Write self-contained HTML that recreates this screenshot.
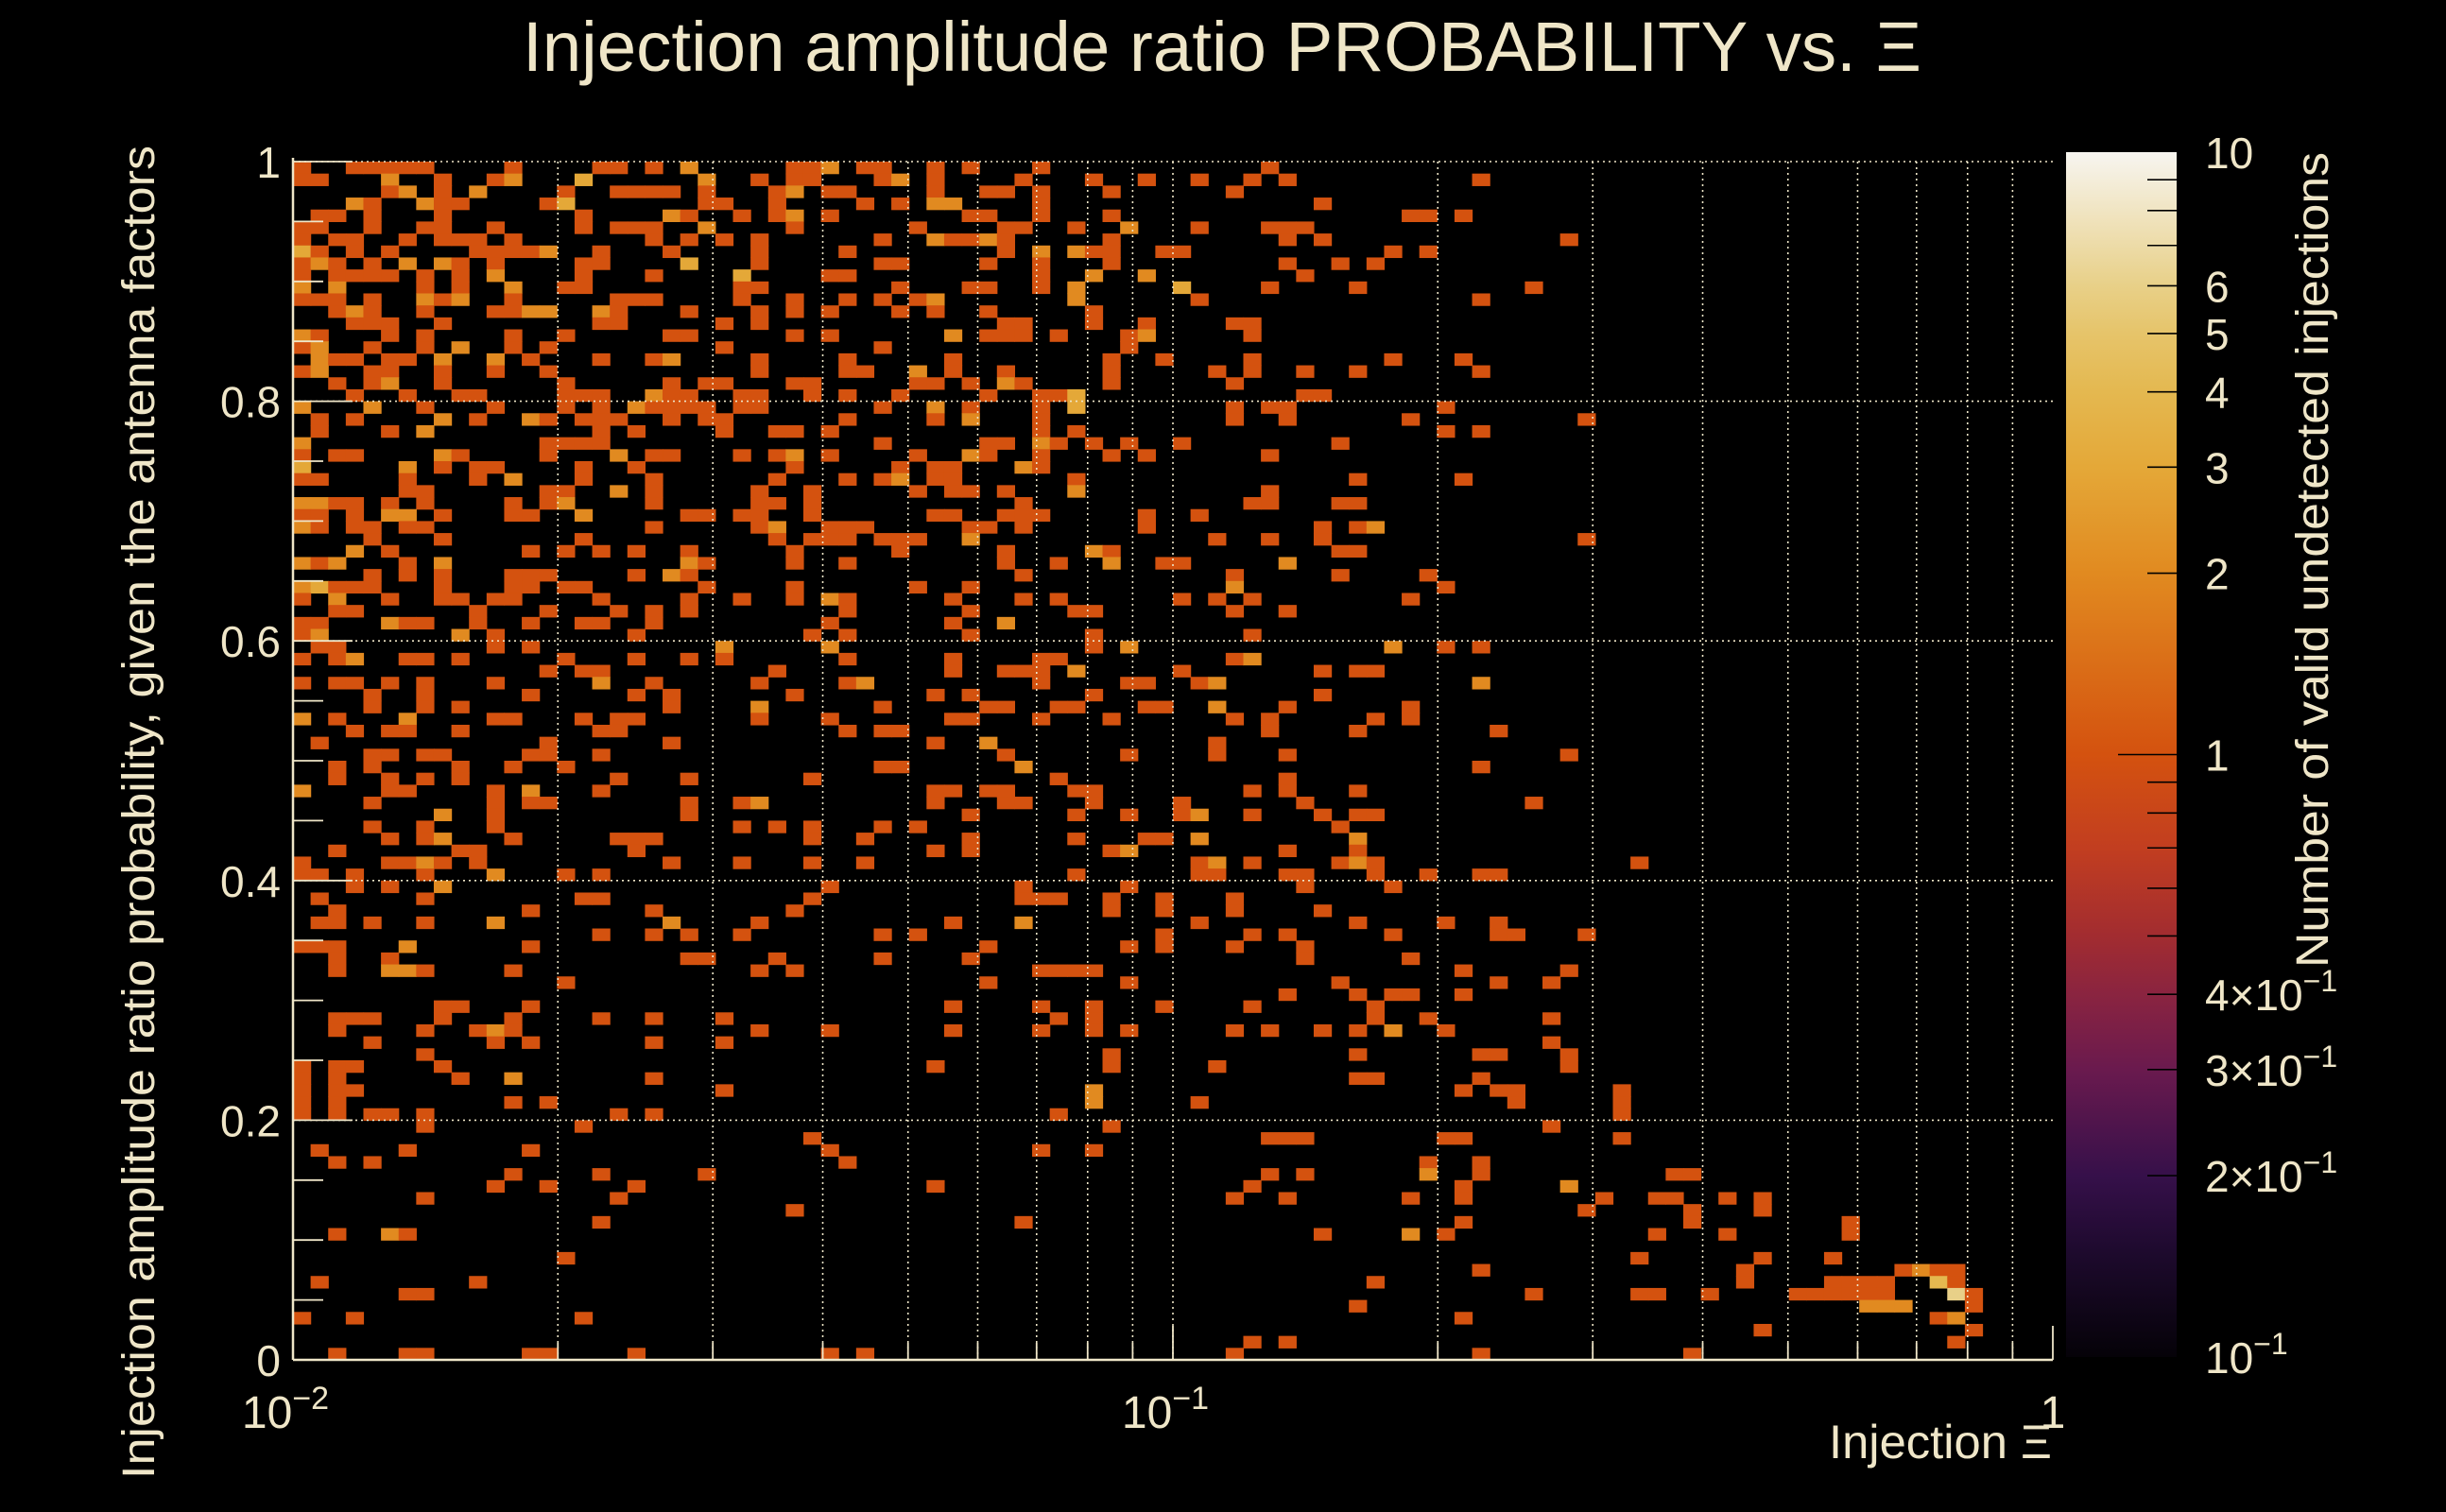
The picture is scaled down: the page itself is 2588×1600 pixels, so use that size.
<!DOCTYPE html>
<html><head><meta charset="utf-8">
<style>
html,body{margin:0;padding:0;background:#000;}
svg{display:block;}
text{font-family:"Liberation Sans",sans-serif;fill:#efe6c8;}
</style></head>
<body>
<svg id="chart" xmlns="http://www.w3.org/2000/svg" width="2588" height="1600" viewBox="0 0 2588 1600">
<rect x="0" y="0" width="2588" height="1600" fill="#000"/>
<text x="553" y="75" font-size="74" textLength="1480" lengthAdjust="spacingAndGlyphs">Injection amplitude ratio PROBABILITY vs.  Ξ</text>
<g id="cells"></g>
<g id="grid"></g>
<g id="axes"></g>
<g id="colorbar"></g>
<text transform="translate(163,154) rotate(-90)" text-anchor="end" font-size="48" textLength="1411" lengthAdjust="spacingAndGlyphs">Injection amplitude ratio probability, given the antenna factors</text>
<text x="1935" y="1543" font-size="50" textLength="236" lengthAdjust="spacingAndGlyphs">Injection Ξ</text>
<text transform="translate(2463,161) rotate(-90)" text-anchor="end" font-size="48" textLength="863" lengthAdjust="spacingAndGlyphs">Number of valid undetected injections</text>
</svg>
<script>
// ---- data ----
const nBinsX = 100;
const nBinsY = 100;
const xMin = 0.01, xMax = 1;
const yMin = 0, yMax = 1;
const zMin = 0.1, zMax = 10;
const yTicks = [0, 0.2, 0.4, 0.6, 0.8, 1];
const yTickLabels = ["0", "0.2", "0.4", "0.6", "0.8", "1"];
const xMajor = [0.01, 0.1, 1];
const xMajorLabels = [["10","−2"], ["10","−1"], ["1",""]];
const zTicks = [10, 6, 5, 4, 3, 2, 1, 0.4, 0.3, 0.2, 0.1];
const zTickLabels = [["10",""],["6",""],["5",""],["4",""],["3",""],["2",""],["1",""],["4×10","−1"],["3×10","−1"],["2×10","−1"],["10","−1"]];
// row data: "yBin|xBin[:count] ..." (count defaults to 1)
const rows = [
"99|0 3 4 5 6 7 12 17 18 20 22:2 28 29 30:2 32 33 36 38 42 55",
"98|0 1 5:2 8 11 12:2 16:3 23:2 26 28 29 33 34:2 36 41 45 48 51 54 56 67",
"97|5 6:2 8 10:2 15 18 19 20 21 23 27 28:2 30 31 36 39 40 42 46 53",
"96|3:2 4 7:2 8 9 14 15:3 23 24 27 32 34 36:2 37:2 42 58",
"95|1 2 4 8 16 21:2 22 25 27 28:2 30 38 39 42 46 63 64 66",
"94|0 1 4 7 8 11 16 18 19 20 23:2 28 35 40 41 44 47:2 51 55 56 57",
"93|0 2 3 6 8 9 10 12 20 22 24 26 33 36:2 37 38 39:2 40 46 56 58 72",
"92|0:3 1 3 5 10 11 12 13 14:2 17 21 26 31 40 42:2 44:2 45 46 49 50 62 64",
"91|0 1:2 2 4 6:2 8:2 9 11 16 17 22:3 26 33 34 39 42 46 56 59 61",
"90|0 2 3 4 5 7 9 11:2 16 20 25:3 30 31 42 45:2 48:2 57",
"89|0:2 2:2 7 9 12:2 15 16 25 26 34 38 39 42 44:2 50:3 55 60 70",
"88|0 1 2 4 7:2 8 9:2 12 18 19 20 25 28 31 33 35 36:2 44:2 51 67",
"87|2 3:2 4 7 11 12 13:2 14:2 17:2 18 22 26 28 30 34 36 39 45",
"86|3 4 5 8 17 18 24 26 40 41 45 48 53 54",
"85|0:2 1 5 7 12 15 21 22 28 30 37:2 39 40 41 43 47 48:2 54",
"84|0 1:2 4 7 9:2 12 14 24 33 47",
"83|1:2 2 3 5 6 8:2 11:2 13 17 20 21:2 26 31 37 46 49 54 62 66",
"82|0 1:2 4 5 8 11 14 26 31 32 35:2 37 40 46 52 54 57 60 67",
"81|2 4 5:2 8 15 21 23 24 28 29 35 36 38 40:2 41 46 53",
"80|3 6 9 10 15 16 17 20:2 21 22 25 26 29 31 34 39 42 43 44:3 57 58",
"79|0:2 4:2 7 11 15 17 19:2 20 21 22 23 25 26 33 36:2 38 42 44:3 53 55 56 65",
"78|1 3 8:2 10 13:2 14 16 17 18 21 23 24 31 36 38:2 42 53 56 63 73",
"77|1 5 7:2 17 19 24 27 28 30 42 44 65 67",
"76|0:2 14 15 16 17 33 39 40 42:2 43 45 47 50 59",
"75|0 2 3 8:2 9 14 18:2 20 21 25 27 28:2 30 35 38:2 39 42 46 48 55",
"74|0:3 6:2 8 10 11 16 19 28 34 36 37 41:2 42",
"73|0 1 6 10 12:2 16 20 27 31 33 34:2 36 37 44 60 66",
"72|6 7 14 15 18:2 20 26 29 35 37 38 40 44:2 55",
"71|0:2 1:2 2 3 5 7 12 14 15:2 20 26 27 29 41 54 55 59 60",
"70|0 1 3 5:2 6:2 8 12 13 16:2 22 23 25 26 29 36 37 40 41 42 48 51",
"69|0:2 1 3 4 6 7 20 26 27:2 30 31 32 38 39 41 48 58 60 61:2",
"68|4 8 16 27 29 30 31 33 34 35 38:2 52 55 58 73",
"67|3:2 5 13 15 17 19 22 28 34 40 45:2 46 59 60",
"66|0:2 1 2:2 6 8:2 22:2 23 28 31 40 43 46:2 49 50 56:2",
"65|4 6 8 12 13 14 19 21:2 22 41 53 59 64",
"64|0:2 1:3 2 3 4 8 12 13 15 16 23 28 35 38 53:2 65",
"63|0 2:2 5 8 9 11 12 17 22 25 28 30:2 31 37 41 43 50 52 54 63",
"62|2 3 10 14 18 20 22 31 38 44 45 53 56",
"61|0 1 5:2 6 7 10 13 16 17 20 30 37 40:2",
"60|0 1:2 9:2 11 19 29 31 38 45 54",
"59|1 2 11 13 24:2 30:2 45 47:2 62:2 65 67",
"58|0 2 3:2 6 7 9 15 19 22 24 31 37 42 43 53 54:2",
"57|14 16 17 27 37 40 41 42 44:2 50 58 60 61",
"56|0 2 3 5 7 11 17:2 20 26 31 32:2 42 47 48 51 52:2 67:2",
"55|4 7 13 19 21 28 36 38 45 58",
"54|4 7 9 21 26:2 33 39 40 43 44 48 49 52:2 56 63",
"53|0:2 2 6:2 11 12 16 18 19 26 30 37 38 42 46 53 55 61 63",
"52|3 5 6 9 17 18 31 33 34 55 60 68",
"51|1 14 21 36 39:2 52",
"50|4 5 7 8 13 14 17 40 47 52 56 72",
"49|2 4 9 12 15 33 34 41:2 67",
"48|2 5 7 9 18 22 29 43 56",
"47|0:2 5 6 11 13:2 17 36 37 39 40 44 45 54 56 60",
"46|4 11 13 14 22 25 26:2 36 40 41 45 50 57 70",
"45|8:2 11 22 38 44 47 50 51:2 54 58 60 61",
"44|4 7 11 25 27 29 33 35 59",
"43|5 7 8:2 12 18 19 20 29 32 38 44 48 49 51:2 60:2",
"42|2 9 10 19 36 38 46 47:2 56 60",
"41|0 5 6 7:2 8 10 21 25 29 32 51 52:2 54 59 60:2 61 76",
"40|0 1 3 7 11:2 15 17 44 51 52 56 57 61 64 67 68",
"39|3 5 8:2 30 41 47 57 62",
"38|1 7 16 17 29 41 42 43 46 49 53",
"37|2 13 20 28 46 49 53 58",
"36|1 2 4 7 11:2 21:2 26 37 41:2 51 60 65 68",
"35|17 20 22 25 33 35 49 54 56 62 68 69 73",
"34|0 1 2 6:2 13 39 47 49 53 57",
"33|2 5 22 23 27 33 38 57 63",
"32|2 5:2 6:2 7 12 26 28 42 43 44 45 66 72",
"31|15 39 47 59 68 71",
"30|56 60 62 63 66",
"29|8 9 13 37 42 45 49 54 61",
"28|2 3 4 8 12 17 20 24 43 45 61 64 71",
"27|2 7 10 11:2 12 26 30 37 42 45 47 53 55 58 60 62:2 65",
"26|4 11 13 20 24 71",
"25|7 46 60 67 68 72",
"24|0 2 3 8 36 46 52 72",
"23|0 2 9 12:2 20 60 61 67",
"22|0 2 3 24 45:2 66 68 69 75",
"21|0 2 12 14 45:2 51 69 75",
"20|0 2 4 5 7 18 20 43 75",
"19|7 16 46 71",
"18|29 55 56 57 65 66 75",
"17|1 6 13 30 42 45",
"16|2 4 31 64 67",
"15|12 17 23 55 57 64:2 67 78 79",
"14|11 14 19 36 54 66 72:2",
"13|7 18 53 56 63 66 74 77 78 81 83",
"12|28 73 79 83",
"11|17 41 66 79 88",
"10|2 5:2 6 58 63:2 65 77 81 88",
"8|15 76 83 87",
"7|67 82 91 92:2 93 94",
"6|1 10 61 82 87 88 89 90 93:4 94",
"5|6 7 70 76 77 80 85 86 87 88 89 90 94:6 95",
"4|60 89:2 90:2 91:2 95",
"3|0 3 16 66 93 94:2",
"2|83 95",
"1|54 56 94",
"0|2 6 7 13 14 19 30 32 53 67 79"
];

// ---- layout / style ----
const NS = "http://www.w3.org/2000/svg";
const PX0 = 310, PX1 = 2172, PY0 = 171, PY1 = 1439;
const CB = {x0: 2186, x1: 2303, y0: 161, y1: 1436};
const CREAM = "#efe6c8";
const palVals = [0.1, 0.15, 0.2, 0.3, 0.4, 0.5, 0.7, 1, 2, 3, 4, 5, 6, 10];
const palCols = ["#050208","#1e0a2e","#36104a","#6a1a4e","#8a2440","#a22c30","#c23e20","#d4520f","#e18a20","#e4a838","#e4b850","#e6c46a","#e8d088","#f7f5f0"];

function xScale(v){ return PX0 + (Math.log10(v) - Math.log10(xMin)) / (Math.log10(xMax) - Math.log10(xMin)) * (PX1 - PX0); }
function yScale(v){ return PY1 - (v - yMin) / (yMax - yMin) * (PY1 - PY0); }
function zScale(v){ return CB.y1 - (Math.log10(v) - Math.log10(zMin)) / (Math.log10(zMax) - Math.log10(zMin)) * (CB.y1 - CB.y0); }
function xEdge(i){ return Math.pow(10, Math.log10(xMin) + i * (Math.log10(xMax) - Math.log10(xMin)) / nBinsX); }
function yEdge(j){ return yMin + j * (yMax - yMin) / nBinsY; }
function hex(c){ return [parseInt(c.substr(1,2),16),parseInt(c.substr(3,2),16),parseInt(c.substr(5,2),16)]; }
function colorFor(v){
  v = Math.max(zMin, Math.min(zMax, v));
  const lv = Math.log10(v);
  for (let k = 0; k < palVals.length - 1; k++){
    const a = Math.log10(palVals[k]), b = Math.log10(palVals[k+1]);
    if (lv <= b){
      const t = (lv - a) / (b - a), ca = hex(palCols[k]), cb = hex(palCols[k+1]);
      return "rgb(" + ca.map((c,i)=>Math.round(c + (cb[i]-c)*t)).join(",") + ")";
    }
  }
  return palCols[palCols.length-1];
}
function mk(tag, attrs, parent){
  const e = document.createElementNS(NS, tag);
  for (const k in attrs) e.setAttribute(k, attrs[k]);
  parent.appendChild(e);
  return e;
}

// ---- cells ----
const cellsG = document.getElementById("cells");
rows.forEach(r => {
  const parts = r.split("|");
  const iy = parseInt(parts[0]);
  parts[1].trim().split(/\s+/).forEach(tok => {
    const p = tok.split(":");
    const ix = parseInt(p[0]);
    const val = p.length > 1 ? parseFloat(p[1]) : 1;
    const xa = xScale(xEdge(ix)), xb = xScale(xEdge(ix+1));
    const ya = yScale(yEdge(iy+1)), yb = yScale(yEdge(iy));
    const el = mk("rect", {x: xa.toFixed(2), y: ya.toFixed(2), width: (xb-xa+0.6).toFixed(2), height: (yb-ya+0.6).toFixed(2), fill: colorFor(val)}, cellsG);
    
    
  });
});

// ---- grid ----
const gridG = document.getElementById("grid");
[0.01, 0.1].forEach(dec => {
  for (let m = 2; m <= 9; m++){
    const x = xScale(dec*m);
    const gl = mk("line", {x1:x, x2:x, y1:PY0, y2:PY1, stroke:CREAM, "stroke-width":1.6, "stroke-dasharray":"2 4"}, gridG);
    
    
  }
});
{
  const x = xScale(0.1);
  const gl = mk("line", {x1:x, x2:x, y1:PY0, y2:PY1, stroke:CREAM, "stroke-width":1.6, "stroke-dasharray":"2 4"}, gridG);
  
  
}
yTicks.slice(1).forEach(v => {
  const y = yScale(v);
  const gl = mk("line", {x1:PX0, x2:PX1, y1:y, y2:y, stroke:CREAM, "stroke-width":1.6, "stroke-dasharray":"2 4"}, gridG);
  
  
});

// ---- axes ----
const axG = document.getElementById("axes");
let ax = mk("line", {x1:PX0, x2:PX0, y1:PY0-4, y2:PY1, stroke:CREAM, "stroke-width":2.5}, axG);


ax = mk("line", {x1:PX0, x2:PX1, y1:PY1, y2:PY1, stroke:CREAM, "stroke-width":2.5}, axG);


for (let k = 0; k <= 20; k++){
  const v = k*0.05, y = yScale(v);
  const major = (k % 4 === 0);
  const t = mk("line", {x1:PX0, x2:PX0 + (major ? 63 : 32), y1:y, y2:y, stroke:CREAM, "stroke-width":1.8}, axG);
  
  
}
yTicks.forEach((v,i) => {
  const t = mk("text", {x:297, y:yScale(v)+17, "text-anchor":"end", "font-size":46}, axG);
  t.textContent = yTickLabels[i];
  
  
});
[0.01, 0.1].forEach(dec => {
  for (let m = 2; m <= 9; m++){
    const x = xScale(dec*m);
    const t = mk("line", {x1:x, x2:x, y1:PY1, y2:PY1-18, stroke:CREAM, "stroke-width":1.8}, axG);
    
    
  }
});
xMajor.forEach((v,i) => {
  const x = xScale(v);
  const t = mk("line", {x1:x, x2:x, y1:PY1, y2:PY1-36, stroke:CREAM, "stroke-width":1.8}, axG);
  
  
  const lab = xMajorLabels[i];
  const tx = mk("text", {x: lab[1] ? x - 8 : x, y: 1511, "text-anchor":"middle", "font-size":48}, axG);
  
  
  const s1 = mk("tspan", {}, tx); s1.textContent = lab[0];
  if (lab[1]){ const s2 = mk("tspan", {dy:-20, "font-size":34}, tx); s2.textContent = lab[1]; }
});

// ---- colorbar ----
const cbG = document.getElementById("colorbar");
const defs = mk("defs", {}, cbG);
const grad = mk("linearGradient", {id:"cbgrad", x1:0, y1:1, x2:0, y2:0}, defs);
palVals.forEach((v,i) => {
  const off = (Math.log10(v) - Math.log10(zMin)) / (Math.log10(zMax) - Math.log10(zMin));
  mk("stop", {offset: off, "stop-color": palCols[i]}, grad);
});
const cbr = mk("rect", {x:CB.x0, y:CB.y0, width:CB.x1-CB.x0, height:CB.y1-CB.y0, fill:"url(#cbgrad)"}, cbG);


[0.2,0.3,0.4,0.5,0.6,0.7,0.8,0.9,1,2,3,4,5,6,7,8,9].forEach(v => {
  const y = zScale(v);
  const len = (v === 1) ? 62 : 31;
  const t = mk("line", {x1:CB.x1-len, x2:CB.x1, y1:y, y2:y, stroke:"#000", "stroke-width":1.6}, cbG);
  
  
});
zTicks.forEach((v,i) => {
  const lab = zTickLabels[i];
  const tx = mk("text", {x:2333, y:zScale(v)+17, "font-size":46}, cbG);
  
  
  const s1 = mk("tspan", {}, tx); s1.textContent = lab[0];
  if (lab[1]){ const s2 = mk("tspan", {dy:-20, "font-size":32}, tx); s2.textContent = lab[1]; }
});
</script>
</body></html>
